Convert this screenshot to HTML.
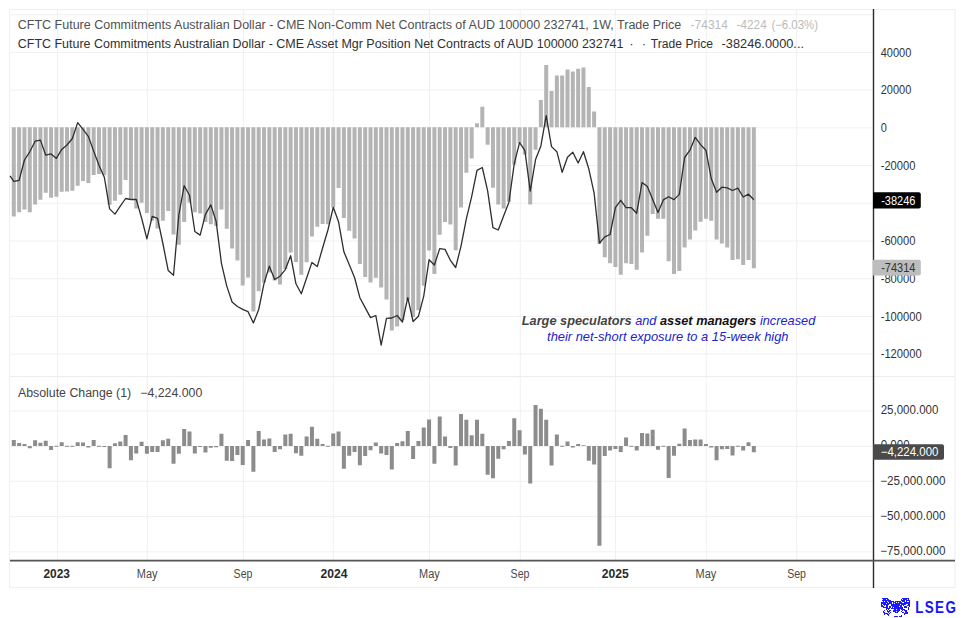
<!DOCTYPE html><html><head><meta charset="utf-8"><style>html,body{margin:0;padding:0;background:#fff;width:965px;height:618px;overflow:hidden}svg{display:block}</style></head><body><svg width="965" height="618" viewBox="0 0 965 618">
<rect width="965" height="618" fill="#fff"/>
<path d="M10 14.7H873M10 52.4H873M10 90.1H873M10 127.8H873M10 165.5H873M10 203.2H873M10 241.0H873M10 278.7H873M10 316.4H873M10 354.1H873M10 410.9H873M10 446.4H873M10 481.2H873M10 516.6H873M10 551.8H873M57.6 10V560M147.3 10V560M243.4 10V560M333.3 10V560M429.5 10V560M520.3 10V560M615.5 10V560M706.3 10V560M796.7 10V560" stroke="#f0f0f0" stroke-width="1" fill="none"/>
<path d="M10 376.5H955" stroke="#ececec" stroke-width="1.2"/>
<rect x="9.5" y="9.5" width="945.5" height="578" fill="none" stroke="#f0f0f0" stroke-width="1.2"/>
<path d="M11.80 127.20h4.0V216.40h-4.0ZM17.12 127.20h4.0V212.20h-4.0ZM22.45 127.20h4.0V209.40h-4.0ZM27.77 127.20h4.0V212.20h-4.0ZM33.10 127.20h4.0V204.40h-4.0ZM38.42 127.20h4.0V199.80h-4.0ZM43.74 127.20h4.0V192.70h-4.0ZM49.07 127.20h4.0V197.80h-4.0ZM54.39 127.20h4.0V196.80h-4.0ZM59.72 127.20h4.0V191.80h-4.0ZM65.04 127.20h4.0V191.50h-4.0ZM70.36 127.20h4.0V190.70h-4.0ZM75.69 127.20h4.0V185.70h-4.0ZM81.01 127.20h4.0V180.90h-4.0ZM86.34 127.20h4.0V182.90h-4.0ZM91.66 127.20h4.0V174.90h-4.0ZM96.98 127.20h4.0V174.10h-4.0ZM102.31 127.20h4.0V175.30h-4.0ZM107.63 127.20h4.0V204.70h-4.0ZM112.96 127.20h4.0V200.80h-4.0ZM118.28 127.20h4.0V194.70h-4.0ZM123.60 127.20h4.0V180.00h-4.0ZM128.93 127.20h4.0V198.80h-4.0ZM134.25 127.20h4.0V208.50h-4.0ZM139.58 127.20h4.0V202.70h-4.0ZM144.90 127.20h4.0V213.00h-4.0ZM150.22 127.20h4.0V220.80h-4.0ZM155.55 127.20h4.0V228.60h-4.0ZM160.87 127.20h4.0V220.80h-4.0ZM166.20 127.20h4.0V211.00h-4.0ZM171.52 127.20h4.0V234.50h-4.0ZM176.84 127.20h4.0V244.70h-4.0ZM182.17 127.20h4.0V221.90h-4.0ZM187.49 127.20h4.0V202.60h-4.0ZM192.82 127.20h4.0V212.30h-4.0ZM198.14 127.20h4.0V213.50h-4.0ZM203.46 127.20h4.0V222.00h-4.0ZM208.79 127.20h4.0V224.30h-4.0ZM214.11 127.20h4.0V225.90h-4.0ZM219.44 127.20h4.0V209.40h-4.0ZM224.76 127.20h4.0V228.80h-4.0ZM230.08 127.20h4.0V248.60h-4.0ZM235.41 127.20h4.0V260.40h-4.0ZM240.73 127.20h4.0V285.50h-4.0ZM246.06 127.20h4.0V277.40h-4.0ZM251.38 127.20h4.0V311.40h-4.0ZM256.70 127.20h4.0V291.20h-4.0ZM262.03 127.20h4.0V282.40h-4.0ZM267.35 127.20h4.0V272.40h-4.0ZM272.68 127.20h4.0V280.40h-4.0ZM278.00 127.20h4.0V284.50h-4.0ZM283.32 127.20h4.0V269.00h-4.0ZM288.65 127.20h4.0V252.50h-4.0ZM293.97 127.20h4.0V262.00h-4.0ZM299.30 127.20h4.0V274.80h-4.0ZM304.62 127.20h4.0V262.20h-4.0ZM309.94 127.20h4.0V236.40h-4.0ZM315.27 127.20h4.0V226.70h-4.0ZM320.59 127.20h4.0V224.00h-4.0ZM325.92 127.20h4.0V224.30h-4.0ZM331.24 127.20h4.0V207.50h-4.0ZM336.56 127.20h4.0V188.00h-4.0ZM341.89 127.20h4.0V218.00h-4.0ZM347.21 127.20h4.0V230.70h-4.0ZM352.54 127.20h4.0V238.50h-4.0ZM357.86 127.20h4.0V263.90h-4.0ZM363.18 127.20h4.0V276.90h-4.0ZM368.51 127.20h4.0V282.50h-4.0ZM373.83 127.20h4.0V277.70h-4.0ZM379.16 127.20h4.0V287.50h-4.0ZM384.48 127.20h4.0V299.50h-4.0ZM389.80 127.20h4.0V330.60h-4.0ZM395.13 127.20h4.0V326.50h-4.0ZM400.45 127.20h4.0V320.00h-4.0ZM405.78 127.20h4.0V300.00h-4.0ZM411.10 127.20h4.0V317.00h-4.0ZM416.42 127.20h4.0V310.30h-4.0ZM421.75 127.20h4.0V285.70h-4.0ZM427.07 127.20h4.0V250.40h-4.0ZM432.40 127.20h4.0V274.00h-4.0ZM437.72 127.20h4.0V234.80h-4.0ZM443.04 127.20h4.0V221.90h-4.0ZM448.37 127.20h4.0V224.40h-4.0ZM453.69 127.20h4.0V250.30h-4.0ZM459.02 127.20h4.0V207.60h-4.0ZM464.34 127.20h4.0V172.70h-4.0ZM469.66 127.20h4.0V158.40h-4.0ZM474.99 123.30h4.0V127.20h-4.0ZM480.31 106.80h4.0V127.20h-4.0ZM485.64 127.20h4.0V144.80h-4.0ZM490.96 127.20h4.0V187.70h-4.0ZM496.28 127.20h4.0V204.50h-4.0ZM501.61 127.20h4.0V208.60h-4.0ZM506.93 127.20h4.0V201.70h-4.0ZM512.26 127.20h4.0V164.60h-4.0ZM517.58 127.20h4.0V143.50h-4.0ZM522.90 127.20h4.0V154.60h-4.0ZM528.23 127.20h4.0V204.50h-4.0ZM533.55 127.20h4.0V149.70h-4.0ZM538.88 100.00h4.0V127.20h-4.0ZM544.20 65.00h4.0V127.20h-4.0ZM549.52 90.90h4.0V127.20h-4.0ZM554.85 75.60h4.0V127.20h-4.0ZM560.17 75.60h4.0V127.20h-4.0ZM565.50 69.60h4.0V127.20h-4.0ZM570.82 71.50h4.0V127.20h-4.0ZM576.14 68.80h4.0V127.20h-4.0ZM581.47 67.60h4.0V127.20h-4.0ZM586.79 87.00h4.0V127.20h-4.0ZM592.12 111.60h4.0V127.20h-4.0ZM597.44 127.20h4.0V244.00h-4.0ZM602.76 127.20h4.0V257.30h-4.0ZM608.09 127.20h4.0V263.30h-4.0ZM613.41 127.20h4.0V267.00h-4.0ZM618.74 127.20h4.0V274.70h-4.0ZM624.06 127.20h4.0V263.30h-4.0ZM629.38 127.20h4.0V264.10h-4.0ZM634.71 127.20h4.0V269.80h-4.0ZM640.03 127.20h4.0V252.50h-4.0ZM645.36 127.20h4.0V235.80h-4.0ZM650.68 127.20h4.0V214.00h-4.0ZM656.00 127.20h4.0V218.80h-4.0ZM661.33 127.20h4.0V218.80h-4.0ZM666.65 127.20h4.0V261.20h-4.0ZM671.98 127.20h4.0V273.90h-4.0ZM677.30 127.20h4.0V270.90h-4.0ZM682.62 127.20h4.0V247.60h-4.0ZM687.95 127.20h4.0V239.50h-4.0ZM693.27 127.20h4.0V230.60h-4.0ZM698.60 127.20h4.0V221.70h-4.0ZM703.92 127.20h4.0V218.80h-4.0ZM709.24 127.20h4.0V220.80h-4.0ZM714.57 127.20h4.0V239.50h-4.0ZM719.89 127.20h4.0V243.60h-4.0ZM725.22 127.20h4.0V247.60h-4.0ZM730.54 127.20h4.0V260.00h-4.0ZM735.86 127.20h4.0V259.30h-4.0ZM741.19 127.20h4.0V265.00h-4.0ZM746.51 127.20h4.0V260.00h-4.0ZM751.84 127.20h4.0V268.20h-4.0Z" fill="#b4b4b4"/>
<path d="M10.00 175.80 L13.80 181.30 L19.12 180.40 L24.45 160.00 L29.77 151.80 L35.10 141.20 L40.42 140.10 L45.74 155.20 L51.07 153.90 L56.39 158.40 L61.72 149.40 L67.04 145.00 L72.36 138.50 L77.69 122.60 L83.01 129.30 L88.34 136.30 L93.66 151.10 L98.98 165.30 L104.31 177.20 L109.63 208.90 L114.96 214.10 L120.28 206.20 L125.60 198.50 L130.93 199.50 L136.25 199.40 L141.58 218.00 L146.90 238.80 L152.22 216.40 L157.55 218.40 L162.87 243.50 L168.20 270.40 L173.52 275.20 L178.84 215.00 L184.17 185.70 L189.49 195.20 L194.82 231.50 L200.14 235.10 L205.46 214.40 L210.79 204.90 L216.11 221.30 L221.44 263.30 L226.76 286.10 L232.08 302.00 L237.41 306.50 L242.73 309.40 L248.06 311.70 L253.38 323.00 L258.70 309.50 L264.03 283.40 L269.35 266.20 L274.68 279.50 L280.00 276.20 L285.32 269.60 L290.65 255.70 L295.97 283.80 L301.30 293.70 L306.62 278.00 L311.94 262.40 L317.27 266.60 L322.59 248.00 L327.92 230.00 L333.24 207.30 L338.56 221.80 L343.89 251.80 L349.21 264.50 L354.54 277.50 L359.86 297.70 L365.18 307.60 L370.51 317.60 L375.83 315.50 L381.16 345.10 L386.48 318.30 L391.80 318.00 L397.13 315.50 L402.45 322.00 L407.78 297.70 L413.10 321.50 L418.42 316.30 L423.75 296.10 L429.07 259.70 L434.40 265.00 L439.72 248.60 L445.04 249.40 L450.37 260.30 L455.69 267.50 L461.02 246.10 L466.34 218.90 L471.66 196.60 L476.99 170.40 L482.31 167.50 L487.64 190.80 L492.96 227.70 L498.28 230.00 L503.61 216.00 L508.93 202.20 L514.26 163.60 L519.58 142.70 L524.90 150.70 L530.23 191.20 L535.55 159.60 L540.88 145.90 L546.20 115.70 L551.52 146.60 L556.85 151.70 L562.17 172.30 L567.50 157.20 L572.82 152.30 L578.14 163.00 L583.47 151.70 L588.79 168.80 L594.12 193.10 L599.44 243.00 L604.76 236.80 L610.09 234.50 L615.41 207.70 L620.74 200.30 L626.06 207.70 L631.38 207.70 L636.71 213.20 L642.03 182.60 L647.36 186.60 L652.68 199.50 L658.00 212.50 L663.33 199.90 L668.65 196.70 L673.98 199.60 L679.30 194.40 L684.62 157.50 L689.95 150.20 L695.27 137.30 L700.60 144.60 L705.92 150.20 L711.24 178.50 L716.57 192.30 L721.89 187.20 L727.22 187.80 L732.54 190.50 L737.86 188.10 L743.19 197.00 L748.51 194.20 L753.84 199.70" fill="none" stroke="#2e2e2e" stroke-width="1.3" stroke-linejoin="round"/>
<path d="M11.80 440.08h4.0V446.10h-4.0ZM17.12 442.94h4.0V446.10h-4.0ZM22.45 443.99h4.0V446.10h-4.0ZM27.77 446.10h4.0V448.21h-4.0ZM33.10 440.23h4.0V446.10h-4.0ZM38.42 442.64h4.0V446.10h-4.0ZM43.74 440.76h4.0V446.10h-4.0ZM49.07 446.10h4.0V449.94h-4.0ZM54.39 445.70h4.0V446.70h-4.0ZM59.72 442.34h4.0V446.10h-4.0ZM65.04 445.70h4.0V446.70h-4.0ZM70.36 445.70h4.0V446.70h-4.0ZM75.69 442.34h4.0V446.10h-4.0ZM81.01 442.49h4.0V446.10h-4.0ZM86.34 446.10h4.0V447.60h-4.0ZM91.66 440.08h4.0V446.10h-4.0ZM96.98 445.70h4.0V446.70h-4.0ZM102.31 446.10h4.0V447.00h-4.0ZM107.63 446.10h4.0V468.21h-4.0ZM112.96 443.17h4.0V446.10h-4.0ZM118.28 441.51h4.0V446.10h-4.0ZM123.60 435.05h4.0V446.10h-4.0ZM128.93 446.10h4.0V460.24h-4.0ZM134.25 446.10h4.0V453.39h-4.0ZM139.58 441.74h4.0V446.10h-4.0ZM144.90 446.10h4.0V453.85h-4.0ZM150.22 446.10h4.0V451.97h-4.0ZM155.55 446.10h4.0V451.97h-4.0ZM160.87 440.23h4.0V446.10h-4.0ZM166.20 438.73h4.0V446.10h-4.0ZM171.52 446.10h4.0V463.77h-4.0ZM176.84 446.10h4.0V453.77h-4.0ZM182.17 428.95h4.0V446.10h-4.0ZM187.49 431.59h4.0V446.10h-4.0ZM192.82 446.10h4.0V453.39h-4.0ZM198.14 446.10h4.0V447.00h-4.0ZM203.46 446.10h4.0V452.49h-4.0ZM208.79 446.10h4.0V447.83h-4.0ZM214.11 446.10h4.0V447.30h-4.0ZM219.44 433.69h4.0V446.10h-4.0ZM224.76 446.10h4.0V460.69h-4.0ZM230.08 446.10h4.0V460.99h-4.0ZM235.41 446.10h4.0V454.97h-4.0ZM240.73 446.10h4.0V464.98h-4.0ZM246.06 440.01h4.0V446.10h-4.0ZM251.38 446.10h4.0V471.67h-4.0ZM256.70 430.91h4.0V446.10h-4.0ZM262.03 439.48h4.0V446.10h-4.0ZM267.35 438.58h4.0V446.10h-4.0ZM272.68 446.10h4.0V452.12h-4.0ZM278.00 446.10h4.0V449.18h-4.0ZM283.32 434.44h4.0V446.10h-4.0ZM288.65 433.69h4.0V446.10h-4.0ZM293.97 446.10h4.0V453.24h-4.0ZM299.30 446.10h4.0V455.73h-4.0ZM304.62 436.62h4.0V446.10h-4.0ZM309.94 426.70h4.0V446.10h-4.0ZM315.27 438.81h4.0V446.10h-4.0ZM320.59 444.07h4.0V446.10h-4.0ZM325.92 445.70h4.0V446.70h-4.0ZM331.24 433.47h4.0V446.10h-4.0ZM336.56 431.44h4.0V446.10h-4.0ZM341.89 446.10h4.0V468.66h-4.0ZM347.21 446.10h4.0V455.65h-4.0ZM352.54 446.10h4.0V451.97h-4.0ZM357.86 446.10h4.0V465.20h-4.0ZM363.18 446.10h4.0V455.88h-4.0ZM368.51 446.10h4.0V450.31h-4.0ZM373.83 442.49h4.0V446.10h-4.0ZM379.16 446.10h4.0V453.47h-4.0ZM384.48 446.10h4.0V455.12h-4.0ZM389.80 446.10h4.0V469.49h-4.0ZM395.13 443.02h4.0V446.10h-4.0ZM400.45 441.21h4.0V446.10h-4.0ZM405.78 431.06h4.0V446.10h-4.0ZM411.10 446.10h4.0V458.88h-4.0ZM416.42 441.06h4.0V446.10h-4.0ZM421.75 427.60h4.0V446.10h-4.0ZM427.07 419.55h4.0V446.10h-4.0ZM432.40 446.10h4.0V463.85h-4.0ZM437.72 416.62h4.0V446.10h-4.0ZM443.04 436.40h4.0V446.10h-4.0ZM448.37 446.10h4.0V447.98h-4.0ZM453.69 446.10h4.0V465.58h-4.0ZM459.02 413.99h4.0V446.10h-4.0ZM464.34 419.86h4.0V446.10h-4.0ZM469.66 435.35h4.0V446.10h-4.0ZM474.99 419.70h4.0V446.10h-4.0ZM480.31 433.69h4.0V446.10h-4.0ZM485.64 446.10h4.0V474.68h-4.0ZM490.96 446.10h4.0V478.36h-4.0ZM496.28 446.10h4.0V458.73h-4.0ZM501.61 446.10h4.0V449.18h-4.0ZM506.93 440.91h4.0V446.10h-4.0ZM512.26 418.20h4.0V446.10h-4.0ZM517.58 430.23h4.0V446.10h-4.0ZM522.90 446.10h4.0V454.45h-4.0ZM528.23 446.10h4.0V483.62h-4.0ZM533.55 404.89h4.0V446.10h-4.0ZM538.88 408.73h4.0V446.10h-4.0ZM544.20 419.78h4.0V446.10h-4.0ZM549.52 446.10h4.0V465.58h-4.0ZM554.85 434.59h4.0V446.10h-4.0ZM560.17 445.70h4.0V446.70h-4.0ZM565.50 441.59h4.0V446.10h-4.0ZM570.82 446.10h4.0V447.53h-4.0ZM576.14 444.07h4.0V446.10h-4.0ZM581.47 445.20h4.0V446.10h-4.0ZM586.79 446.10h4.0V460.69h-4.0ZM592.12 446.10h4.0V464.60h-4.0ZM597.44 446.10h4.0V545.66h-4.0ZM602.76 446.10h4.0V456.10h-4.0ZM608.09 446.10h4.0V450.61h-4.0ZM613.41 446.10h4.0V448.88h-4.0ZM618.74 446.10h4.0V451.89h-4.0ZM624.06 437.53h4.0V446.10h-4.0ZM629.38 445.70h4.0V446.70h-4.0ZM634.71 446.10h4.0V450.39h-4.0ZM640.03 433.09h4.0V446.10h-4.0ZM645.36 433.54h4.0V446.10h-4.0ZM650.68 429.71h4.0V446.10h-4.0ZM656.00 446.10h4.0V449.71h-4.0ZM661.33 445.70h4.0V446.70h-4.0ZM666.65 446.10h4.0V477.98h-4.0ZM671.98 446.10h4.0V455.65h-4.0ZM677.30 443.84h4.0V446.10h-4.0ZM682.62 428.58h4.0V446.10h-4.0ZM687.95 440.01h4.0V446.10h-4.0ZM693.27 439.41h4.0V446.10h-4.0ZM698.60 439.41h4.0V446.10h-4.0ZM703.92 443.92h4.0V446.10h-4.0ZM709.24 446.10h4.0V447.60h-4.0ZM714.57 446.10h4.0V460.16h-4.0ZM719.89 446.10h4.0V449.18h-4.0ZM725.22 446.10h4.0V449.11h-4.0ZM730.54 446.10h4.0V455.42h-4.0ZM735.86 445.70h4.0V446.70h-4.0ZM741.19 446.10h4.0V450.39h-4.0ZM746.51 442.34h4.0V446.10h-4.0ZM751.84 446.10h4.0V452.27h-4.0Z" fill="#8c8c8c"/>
<path d="M873.5 9V588" stroke="#2a2a2a" stroke-width="1.4"/>
<path d="M10 560.6H955" stroke="#555" stroke-width="1.6"/>
<text x="880.7" y="56.699999999999996" font-family="Liberation Sans, sans-serif" font-size="12" fill="#333" textLength="30.6" lengthAdjust="spacingAndGlyphs">40000</text>
<text x="880.7" y="94.39999999999999" font-family="Liberation Sans, sans-serif" font-size="12" fill="#333" textLength="30.6" lengthAdjust="spacingAndGlyphs">20000</text>
<text x="880.7" y="132.1" font-family="Liberation Sans, sans-serif" font-size="12" fill="#333" textLength="6.1" lengthAdjust="spacingAndGlyphs">0</text>
<text x="880.7" y="169.8" font-family="Liberation Sans, sans-serif" font-size="12" fill="#333" textLength="34.8" lengthAdjust="spacingAndGlyphs">-20000</text>
<text x="880.7" y="245.3" font-family="Liberation Sans, sans-serif" font-size="12" fill="#333" textLength="34.8" lengthAdjust="spacingAndGlyphs">-60000</text>
<text x="880.7" y="283.0" font-family="Liberation Sans, sans-serif" font-size="12" fill="#333" textLength="34.8" lengthAdjust="spacingAndGlyphs">-80000</text>
<text x="880.7" y="320.7" font-family="Liberation Sans, sans-serif" font-size="12" fill="#333" textLength="40.9" lengthAdjust="spacingAndGlyphs">-100000</text>
<text x="880.7" y="358.40000000000003" font-family="Liberation Sans, sans-serif" font-size="12" fill="#333" textLength="40.9" lengthAdjust="spacingAndGlyphs">-120000</text>
<text x="880.7" y="413.9" font-family="Liberation Sans, sans-serif" font-size="12" fill="#333" textLength="57.7" lengthAdjust="spacingAndGlyphs">25,000.000</text>
<text x="880.2" y="484.8" font-family="Liberation Sans, sans-serif" font-size="12" fill="#333" textLength="65.2" lengthAdjust="spacingAndGlyphs">−25,000.000</text>
<text x="880.2" y="520.2" font-family="Liberation Sans, sans-serif" font-size="12" fill="#333" textLength="65.2" lengthAdjust="spacingAndGlyphs">−50,000.000</text>
<text x="880.2" y="555.4" font-family="Liberation Sans, sans-serif" font-size="12" fill="#333" textLength="65.2" lengthAdjust="spacingAndGlyphs">−75,000.000</text>
<text x="880.7" y="449.4" font-family="Liberation Sans, sans-serif" font-size="12" fill="#333" textLength="29" lengthAdjust="spacingAndGlyphs">0.000</text>
<path d="M873 192.3H918.8a2 2 0 0 1 2 2V206.5a2 2 0 0 1 -2 2H873Z" fill="#000"/>
<text x="881.2" y="204.8" font-family="Liberation Sans, sans-serif" font-size="12" fill="#fff" textLength="34.3" lengthAdjust="spacingAndGlyphs">-38246</text>
<path d="M873 259.8H918.8a2 2 0 0 1 2 2V273.6a2 2 0 0 1 -2 2H873Z" fill="#bdbdbd"/>
<text x="881.2" y="271.8" font-family="Liberation Sans, sans-serif" font-size="12" fill="#333" textLength="34.3" lengthAdjust="spacingAndGlyphs">-74314</text>
<path d="M873 444.2H942a2 2 0 0 1 2 2V457.7a2 2 0 0 1 -2 2H873Z" fill="#4a4a4a"/>
<text x="880.7" y="456.3" font-family="Liberation Sans, sans-serif" font-size="12" fill="#fff" textLength="57.7" lengthAdjust="spacingAndGlyphs">−4,224.000</text>
<text x="17.8" y="29.2" font-family="Liberation Sans, sans-serif" font-size="12" fill="#505050" textLength="663.4" lengthAdjust="spacingAndGlyphs">CFTC Future Commitments Australian Dollar - CME Non-Comm Net Contracts of AUD 100000 232741, 1W, Trade Price</text>
<text x="690.6" y="29.2" font-family="Liberation Sans, sans-serif" font-size="12" fill="#bbb" textLength="37.3" lengthAdjust="spacingAndGlyphs">-74314</text>
<text x="736.6" y="29.2" font-family="Liberation Sans, sans-serif" font-size="12" fill="#bbb" textLength="30.1" lengthAdjust="spacingAndGlyphs">-4224</text>
<text x="771.4" y="29.2" font-family="Liberation Sans, sans-serif" font-size="12" fill="#bbb" textLength="46.6" lengthAdjust="spacingAndGlyphs">(−6.03%)</text>
<text x="17.8" y="47.6" font-family="Liberation Sans, sans-serif" font-size="12" fill="#303030" textLength="605.7" lengthAdjust="spacingAndGlyphs">CFTC Future Commitments Australian Dollar - CME Asset Mgr Position Net Contracts of AUD 100000 232741</text>
<text x="629.6" y="47.6" font-family="Liberation Sans, sans-serif" font-size="12" fill="#303030">·</text>
<text x="641.9" y="47.6" font-family="Liberation Sans, sans-serif" font-size="12" fill="#303030">·</text>
<text x="650.8" y="47.6" font-family="Liberation Sans, sans-serif" font-size="12" fill="#303030" textLength="62.2" lengthAdjust="spacingAndGlyphs">Trade Price</text>
<text x="721.6" y="47.6" font-family="Liberation Sans, sans-serif" font-size="12" fill="#303030" textLength="82.4" lengthAdjust="spacingAndGlyphs">-38246.0000...</text>
<text x="17.9" y="397" font-family="Liberation Sans, sans-serif" font-size="12" fill="#444" textLength="113.3" lengthAdjust="spacingAndGlyphs">Absolute Change (1)</text>
<text x="140.2" y="397" font-family="Liberation Sans, sans-serif" font-size="12" fill="#444" textLength="62.1" lengthAdjust="spacingAndGlyphs">−4,224.000</text>
<text x="43.5" y="578" font-family="Liberation Sans, sans-serif" font-size="12" fill="#2a2a2a" textLength="26.5" lengthAdjust="spacingAndGlyphs" font-weight="bold">2023</text>
<text x="136.85" y="578" font-family="Liberation Sans, sans-serif" font-size="12" fill="#4a4a4a" textLength="20.7" lengthAdjust="spacingAndGlyphs">May</text>
<text x="233.6" y="578" font-family="Liberation Sans, sans-serif" font-size="12" fill="#4a4a4a" textLength="18.8" lengthAdjust="spacingAndGlyphs">Sep</text>
<text x="419.05" y="578" font-family="Liberation Sans, sans-serif" font-size="12" fill="#4a4a4a" textLength="20.7" lengthAdjust="spacingAndGlyphs">May</text>
<text x="510.6" y="578" font-family="Liberation Sans, sans-serif" font-size="12" fill="#4a4a4a" textLength="18.8" lengthAdjust="spacingAndGlyphs">Sep</text>
<text x="695.55" y="578" font-family="Liberation Sans, sans-serif" font-size="12" fill="#4a4a4a" textLength="20.7" lengthAdjust="spacingAndGlyphs">May</text>
<text x="787.2" y="578" font-family="Liberation Sans, sans-serif" font-size="12" fill="#4a4a4a" textLength="18.8" lengthAdjust="spacingAndGlyphs">Sep</text>
<text x="320.4" y="578" font-family="Liberation Sans, sans-serif" font-size="12" fill="#2a2a2a" textLength="27" lengthAdjust="spacingAndGlyphs" font-weight="bold">2024</text>
<text x="601.8" y="578" font-family="Liberation Sans, sans-serif" font-size="12" fill="#2a2a2a" textLength="27" lengthAdjust="spacingAndGlyphs" font-weight="bold">2025</text>
<text x="668.5" y="325" font-family="Liberation Sans, sans-serif" font-size="12.75" font-style="italic" text-anchor="middle"><tspan font-weight="bold" fill="#444">Large speculators</tspan><tspan fill="#2222cc"> and </tspan><tspan font-weight="bold" fill="#111">asset managers</tspan><tspan fill="#2222cc"> increased</tspan></text>
<text x="667.8" y="341" font-family="Liberation Sans, sans-serif" font-size="12.9" font-style="italic" text-anchor="middle" fill="#2222cc">their net-short exposure to a 15-week high</text>
<text transform="translate(915.2 612.7) scale(0.86 1)" font-family="Liberation Sans, sans-serif" font-size="15.6" font-weight="bold" fill="#1414ff" letter-spacing="1.6">LSEG</text>
<g fill="#1a1aff"><rect x="882" y="598" width="1" height="1"/><rect x="883" y="598" width="1" height="1"/><rect x="884" y="598" width="1" height="1"/><rect x="885" y="598" width="1" height="1"/><rect x="886" y="598" width="1" height="1"/><rect x="887" y="598" width="1" height="1"/><rect x="902" y="598" width="1" height="1"/><rect x="903" y="598" width="1" height="1"/><rect x="904" y="598" width="1" height="1"/><rect x="905" y="598" width="1" height="1"/><rect x="906" y="598" width="1" height="1"/><rect x="907" y="598" width="1" height="1"/><rect x="908" y="598" width="1" height="1"/><rect x="883" y="599" width="1" height="1"/><rect x="884" y="599" width="1" height="1"/><rect x="885" y="599" width="1" height="1"/><rect x="887" y="599" width="1" height="1"/><rect x="888" y="599" width="1" height="1"/><rect x="901" y="599" width="1" height="1"/><rect x="903" y="599" width="1" height="1"/><rect x="904" y="599" width="1" height="1"/><rect x="905" y="599" width="1" height="1"/><rect x="906" y="599" width="1" height="1"/><rect x="908" y="599" width="1" height="1"/><rect x="882" y="600" width="1" height="1"/><rect x="883" y="600" width="1" height="1"/><rect x="884" y="600" width="1" height="1"/><rect x="885" y="600" width="1" height="1"/><rect x="886" y="600" width="1" height="1"/><rect x="887" y="600" width="1" height="1"/><rect x="888" y="600" width="1" height="1"/><rect x="889" y="600" width="1" height="1"/><rect x="890" y="600" width="1" height="1"/><rect x="901" y="600" width="1" height="1"/><rect x="902" y="600" width="1" height="1"/><rect x="903" y="600" width="1" height="1"/><rect x="904" y="600" width="1" height="1"/><rect x="906" y="600" width="1" height="1"/><rect x="907" y="600" width="1" height="1"/><rect x="908" y="600" width="1" height="1"/><rect x="909" y="600" width="1" height="1"/><rect x="883" y="601" width="1" height="1"/><rect x="885" y="601" width="1" height="1"/><rect x="886" y="601" width="1" height="1"/><rect x="888" y="601" width="1" height="1"/><rect x="889" y="601" width="1" height="1"/><rect x="890" y="601" width="1" height="1"/><rect x="891" y="601" width="1" height="1"/><rect x="892" y="601" width="1" height="1"/><rect x="893" y="601" width="1" height="1"/><rect x="895" y="601" width="1" height="1"/><rect x="896" y="601" width="1" height="1"/><rect x="897" y="601" width="1" height="1"/><rect x="898" y="601" width="1" height="1"/><rect x="899" y="601" width="1" height="1"/><rect x="900" y="601" width="1" height="1"/><rect x="902" y="601" width="1" height="1"/><rect x="903" y="601" width="1" height="1"/><rect x="904" y="601" width="1" height="1"/><rect x="906" y="601" width="1" height="1"/><rect x="909" y="601" width="1" height="1"/><rect x="881" y="602" width="1" height="1"/><rect x="882" y="602" width="1" height="1"/><rect x="883" y="602" width="1" height="1"/><rect x="884" y="602" width="1" height="1"/><rect x="885" y="602" width="1" height="1"/><rect x="886" y="602" width="1" height="1"/><rect x="887" y="602" width="1" height="1"/><rect x="889" y="602" width="1" height="1"/><rect x="890" y="602" width="1" height="1"/><rect x="891" y="602" width="1" height="1"/><rect x="893" y="602" width="1" height="1"/><rect x="894" y="602" width="1" height="1"/><rect x="895" y="602" width="1" height="1"/><rect x="897" y="602" width="1" height="1"/><rect x="899" y="602" width="1" height="1"/><rect x="900" y="602" width="1" height="1"/><rect x="901" y="602" width="1" height="1"/><rect x="904" y="602" width="1" height="1"/><rect x="905" y="602" width="1" height="1"/><rect x="906" y="602" width="1" height="1"/><rect x="907" y="602" width="1" height="1"/><rect x="908" y="602" width="1" height="1"/><rect x="909" y="602" width="1" height="1"/><rect x="881" y="603" width="1" height="1"/><rect x="882" y="603" width="1" height="1"/><rect x="883" y="603" width="1" height="1"/><rect x="884" y="603" width="1" height="1"/><rect x="885" y="603" width="1" height="1"/><rect x="887" y="603" width="1" height="1"/><rect x="888" y="603" width="1" height="1"/><rect x="889" y="603" width="1" height="1"/><rect x="890" y="603" width="1" height="1"/><rect x="891" y="603" width="1" height="1"/><rect x="893" y="603" width="1" height="1"/><rect x="895" y="603" width="1" height="1"/><rect x="896" y="603" width="1" height="1"/><rect x="897" y="603" width="1" height="1"/><rect x="898" y="603" width="1" height="1"/><rect x="899" y="603" width="1" height="1"/><rect x="900" y="603" width="1" height="1"/><rect x="901" y="603" width="1" height="1"/><rect x="902" y="603" width="1" height="1"/><rect x="903" y="603" width="1" height="1"/><rect x="904" y="603" width="1" height="1"/><rect x="905" y="603" width="1" height="1"/><rect x="906" y="603" width="1" height="1"/><rect x="907" y="603" width="1" height="1"/><rect x="908" y="603" width="1" height="1"/><rect x="909" y="603" width="1" height="1"/><rect x="881" y="604" width="1" height="1"/><rect x="883" y="604" width="1" height="1"/><rect x="884" y="604" width="1" height="1"/><rect x="885" y="604" width="1" height="1"/><rect x="886" y="604" width="1" height="1"/><rect x="887" y="604" width="1" height="1"/><rect x="888" y="604" width="1" height="1"/><rect x="891" y="604" width="1" height="1"/><rect x="892" y="604" width="1" height="1"/><rect x="893" y="604" width="1" height="1"/><rect x="894" y="604" width="1" height="1"/><rect x="895" y="604" width="1" height="1"/><rect x="896" y="604" width="1" height="1"/><rect x="897" y="604" width="1" height="1"/><rect x="898" y="604" width="1" height="1"/><rect x="899" y="604" width="1" height="1"/><rect x="901" y="604" width="1" height="1"/><rect x="902" y="604" width="1" height="1"/><rect x="903" y="604" width="1" height="1"/><rect x="904" y="604" width="1" height="1"/><rect x="905" y="604" width="1" height="1"/><rect x="908" y="604" width="1" height="1"/><rect x="909" y="604" width="1" height="1"/><rect x="881" y="605" width="1" height="1"/><rect x="882" y="605" width="1" height="1"/><rect x="884" y="605" width="1" height="1"/><rect x="886" y="605" width="1" height="1"/><rect x="887" y="605" width="1" height="1"/><rect x="891" y="605" width="1" height="1"/><rect x="892" y="605" width="1" height="1"/><rect x="893" y="605" width="1" height="1"/><rect x="894" y="605" width="1" height="1"/><rect x="895" y="605" width="1" height="1"/><rect x="896" y="605" width="1" height="1"/><rect x="897" y="605" width="1" height="1"/><rect x="898" y="605" width="1" height="1"/><rect x="899" y="605" width="1" height="1"/><rect x="900" y="605" width="1" height="1"/><rect x="901" y="605" width="1" height="1"/><rect x="903" y="605" width="1" height="1"/><rect x="907" y="605" width="1" height="1"/><rect x="908" y="605" width="1" height="1"/><rect x="909" y="605" width="1" height="1"/><rect x="881" y="606" width="1" height="1"/><rect x="882" y="606" width="1" height="1"/><rect x="883" y="606" width="1" height="1"/><rect x="886" y="606" width="1" height="1"/><rect x="887" y="606" width="1" height="1"/><rect x="889" y="606" width="1" height="1"/><rect x="890" y="606" width="1" height="1"/><rect x="892" y="606" width="1" height="1"/><rect x="893" y="606" width="1" height="1"/><rect x="894" y="606" width="1" height="1"/><rect x="895" y="606" width="1" height="1"/><rect x="896" y="606" width="1" height="1"/><rect x="897" y="606" width="1" height="1"/><rect x="898" y="606" width="1" height="1"/><rect x="900" y="606" width="1" height="1"/><rect x="901" y="606" width="1" height="1"/><rect x="904" y="606" width="1" height="1"/><rect x="905" y="606" width="1" height="1"/><rect x="906" y="606" width="1" height="1"/><rect x="909" y="606" width="1" height="1"/><rect x="883" y="607" width="1" height="1"/><rect x="884" y="607" width="1" height="1"/><rect x="885" y="607" width="1" height="1"/><rect x="886" y="607" width="1" height="1"/><rect x="887" y="607" width="1" height="1"/><rect x="889" y="607" width="1" height="1"/><rect x="890" y="607" width="1" height="1"/><rect x="892" y="607" width="1" height="1"/><rect x="894" y="607" width="1" height="1"/><rect x="895" y="607" width="1" height="1"/><rect x="896" y="607" width="1" height="1"/><rect x="897" y="607" width="1" height="1"/><rect x="898" y="607" width="1" height="1"/><rect x="899" y="607" width="1" height="1"/><rect x="900" y="607" width="1" height="1"/><rect x="901" y="607" width="1" height="1"/><rect x="902" y="607" width="1" height="1"/><rect x="904" y="607" width="1" height="1"/><rect x="905" y="607" width="1" height="1"/><rect x="906" y="607" width="1" height="1"/><rect x="908" y="607" width="1" height="1"/><rect x="886" y="608" width="1" height="1"/><rect x="887" y="608" width="1" height="1"/><rect x="888" y="608" width="1" height="1"/><rect x="889" y="608" width="1" height="1"/><rect x="891" y="608" width="1" height="1"/><rect x="892" y="608" width="1" height="1"/><rect x="893" y="608" width="1" height="1"/><rect x="894" y="608" width="1" height="1"/><rect x="895" y="608" width="1" height="1"/><rect x="896" y="608" width="1" height="1"/><rect x="897" y="608" width="1" height="1"/><rect x="898" y="608" width="1" height="1"/><rect x="899" y="608" width="1" height="1"/><rect x="900" y="608" width="1" height="1"/><rect x="901" y="608" width="1" height="1"/><rect x="902" y="608" width="1" height="1"/><rect x="908" y="608" width="1" height="1"/><rect x="886" y="609" width="1" height="1"/><rect x="888" y="609" width="1" height="1"/><rect x="894" y="609" width="1" height="1"/><rect x="895" y="609" width="1" height="1"/><rect x="897" y="609" width="1" height="1"/><rect x="898" y="609" width="1" height="1"/><rect x="899" y="609" width="1" height="1"/><rect x="901" y="609" width="1" height="1"/><rect x="902" y="609" width="1" height="1"/><rect x="903" y="609" width="1" height="1"/><rect x="904" y="609" width="1" height="1"/><rect x="908" y="609" width="1" height="1"/><rect x="884" y="610" width="1" height="1"/><rect x="887" y="610" width="1" height="1"/><rect x="889" y="610" width="1" height="1"/><rect x="890" y="610" width="1" height="1"/><rect x="893" y="610" width="1" height="1"/><rect x="894" y="610" width="1" height="1"/><rect x="895" y="610" width="1" height="1"/><rect x="896" y="610" width="1" height="1"/><rect x="897" y="610" width="1" height="1"/><rect x="898" y="610" width="1" height="1"/><rect x="899" y="610" width="1" height="1"/><rect x="902" y="610" width="1" height="1"/><rect x="904" y="610" width="1" height="1"/><rect x="905" y="610" width="1" height="1"/><rect x="906" y="610" width="1" height="1"/><rect x="883" y="611" width="1" height="1"/><rect x="887" y="611" width="1" height="1"/><rect x="888" y="611" width="1" height="1"/><rect x="889" y="611" width="1" height="1"/><rect x="893" y="611" width="1" height="1"/><rect x="894" y="611" width="1" height="1"/><rect x="895" y="611" width="1" height="1"/><rect x="897" y="611" width="1" height="1"/><rect x="898" y="611" width="1" height="1"/><rect x="901" y="611" width="1" height="1"/><rect x="905" y="611" width="1" height="1"/><rect x="906" y="611" width="1" height="1"/><rect x="883" y="612" width="1" height="1"/><rect x="884" y="612" width="1" height="1"/><rect x="888" y="612" width="1" height="1"/><rect x="890" y="612" width="1" height="1"/><rect x="895" y="612" width="1" height="1"/><rect x="896" y="612" width="1" height="1"/><rect x="897" y="612" width="1" height="1"/><rect x="902" y="612" width="1" height="1"/><rect x="903" y="612" width="1" height="1"/><rect x="905" y="612" width="1" height="1"/><rect x="906" y="612" width="1" height="1"/><rect x="907" y="612" width="1" height="1"/><rect x="884" y="613" width="1" height="1"/><rect x="885" y="613" width="1" height="1"/><rect x="886" y="613" width="1" height="1"/><rect x="887" y="613" width="1" height="1"/><rect x="889" y="613" width="1" height="1"/><rect x="904" y="613" width="1" height="1"/><rect x="905" y="613" width="1" height="1"/><rect x="906" y="613" width="1" height="1"/><rect x="907" y="613" width="1" height="1"/><rect x="884" y="614" width="1" height="1"/><rect x="887" y="614" width="1" height="1"/><rect x="888" y="614" width="1" height="1"/><rect x="904" y="614" width="1" height="1"/><rect x="888" y="615" width="1" height="1"/><rect x="901" y="615" width="1" height="1"/><rect x="894" y="616" width="1" height="1"/><rect x="895" y="616" width="1" height="1"/><rect x="896" y="616" width="1" height="1"/><rect x="897" y="616" width="1" height="1"/><rect x="899" y="616" width="1" height="1"/><rect x="900" y="616" width="1" height="1"/><rect x="901" y="616" width="1" height="1"/></g>
</svg></body></html>
